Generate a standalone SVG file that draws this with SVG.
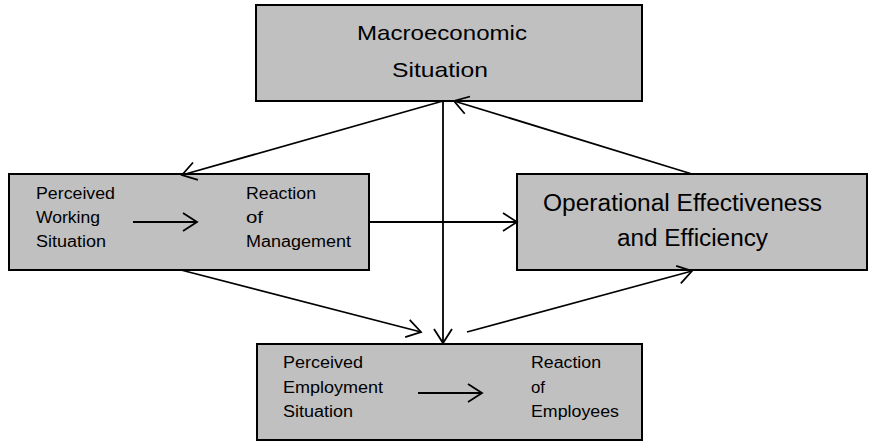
<svg xmlns="http://www.w3.org/2000/svg" width="869" height="441" viewBox="0 0 869 441">
<style>
.box{fill:#c0c0c0;stroke:#000;stroke-width:2}
.t{font-family:"Liberation Sans",Arial,sans-serif;fill:#000}
.s{font-size:16px}
.b{font-size:21px}
.c{stroke:#000;stroke-width:1.8;fill:none}
</style>
<defs>
<marker id="ah" markerUnits="userSpaceOnUse" refX="0" refY="0" markerWidth="20" markerHeight="24" orient="auto" overflow="visible">
<path d="M-14,-9 L0,0 L-14,9" fill="none" stroke="#000" stroke-width="1.8"/>
</marker>
</defs>
<rect width="869" height="441" fill="#fff"/>
<g id="macro">
<rect class="box" x="256" y="5" width="386" height="96"/>
<text class="t b" x="357" y="40" textLength="170" lengthAdjust="spacingAndGlyphs">Macroeconomic</text>
<text class="t b" x="392" y="77" textLength="96" lengthAdjust="spacingAndGlyphs">Situation</text>
</g>
<g id="working">
<rect class="box" x="9" y="174" width="360" height="96"/>
<text class="t s" x="36" y="199" textLength="79" lengthAdjust="spacingAndGlyphs">Perceived</text>
<text class="t s" x="36" y="223" textLength="64" lengthAdjust="spacingAndGlyphs">Working</text>
<text class="t s" x="36" y="247" textLength="70" lengthAdjust="spacingAndGlyphs">Situation</text>
<text class="t s" x="246" y="199" textLength="70" lengthAdjust="spacingAndGlyphs">Reaction</text>
<text class="t s" x="246" y="223" textLength="17" lengthAdjust="spacingAndGlyphs">of</text>
<text class="t s" x="246" y="247" textLength="105" lengthAdjust="spacingAndGlyphs">Management</text>
<line class="c" x1="133" y1="222" x2="197" y2="222" marker-end="url(#ah)"/>
</g>
<g id="operational">
<rect class="box" x="517" y="174" width="350" height="96"/>
<text class="t" font-size="23" x="543" y="211" textLength="279" lengthAdjust="spacingAndGlyphs">Operational Effectiveness</text>
<text class="t" font-size="23" x="617" y="246" textLength="151" lengthAdjust="spacingAndGlyphs">and Efficiency</text>
</g>
<g id="employment">
<rect class="box" x="257" y="344" width="385" height="96"/>
<text class="t s" x="283" y="368" textLength="80" lengthAdjust="spacingAndGlyphs">Perceived</text>
<text class="t s" x="283" y="393" textLength="100" lengthAdjust="spacingAndGlyphs">Employment</text>
<text class="t s" x="283" y="417" textLength="70" lengthAdjust="spacingAndGlyphs">Situation</text>
<text class="t s" x="531" y="368" textLength="70" lengthAdjust="spacingAndGlyphs">Reaction</text>
<text class="t s" x="531" y="393" textLength="14" lengthAdjust="spacingAndGlyphs">of</text>
<text class="t s" x="531" y="417" textLength="88" lengthAdjust="spacingAndGlyphs">Employees</text>
<line class="c" x1="418" y1="393" x2="482" y2="393" marker-end="url(#ah)"/>
</g>
<g id="connectors">
<line class="c" x1="443" y1="101" x2="182" y2="175" marker-end="url(#ah)"/>
<line class="c" x1="692" y1="174" x2="454" y2="101" marker-end="url(#ah)"/>
<line class="c" x1="443" y1="101" x2="443" y2="343" marker-end="url(#ah)"/>
<line class="c" x1="369" y1="222" x2="517" y2="222" marker-end="url(#ah)"/>
<line class="c" x1="181" y1="270" x2="421" y2="332" marker-end="url(#ah)"/>
<line class="c" x1="467" y1="332" x2="692" y2="271" marker-end="url(#ah)"/>
</g>
</svg>
